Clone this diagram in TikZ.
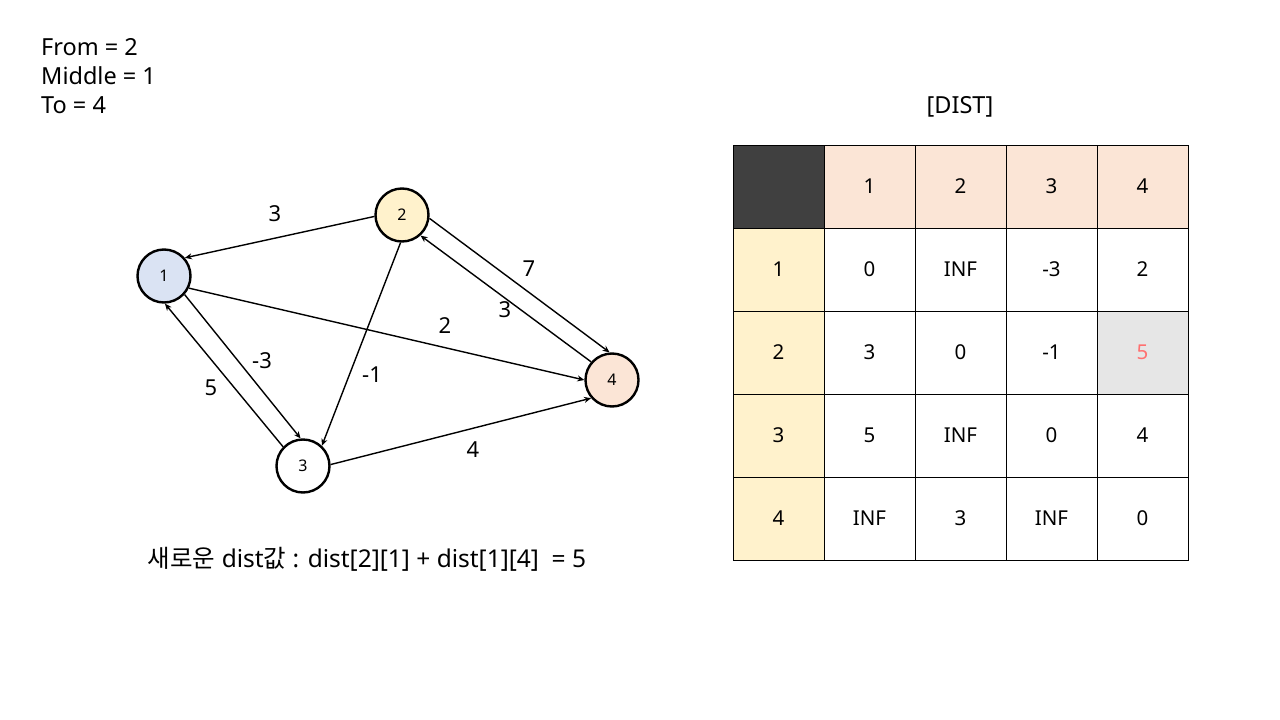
\documentclass[tikz,border=0pt]{standalone}
\usepackage{fontspec}
\setmainfont{Noto Sans}
\newfontfamily\kr{Noto Sans CJK KR}
\usetikzlibrary{arrows.meta}
\definecolor{nblue}{HTML}{DAE3F3}
\definecolor{nyellow}{HTML}{FFF2CC}
\definecolor{npeach}{HTML}{FBE5D6}
\definecolor{hdark}{HTML}{404040}
\definecolor{hgray}{HTML}{E6E6E6}
\definecolor{hred}{HTML}{FF7070}
\begin{document}
\begin{tikzpicture}[x=1pt,y=-1pt,
  every node/.style={font=\fontsize{20.5}{24}\selectfont},
  big/.style={font=\fontsize{23.5}{28}\selectfont},
  vert/.style={circle,draw,line width=2.4pt,minimum size=53pt,inner sep=0pt,font=\fontsize{16}{18}\selectfont},
  edge/.style={line width=1.4pt,-{Stealth[length=7pt,width=6pt]}},
  cell/.style={rectangle,draw,line width=0.8pt,minimum width=91pt,minimum height=83pt,inner sep=0pt,anchor=center},
  lbl/.style={inner sep=1pt,font=\fontsize{22}{26}\selectfont}]
\useasboundingbox[fill=white] (0,0) rectangle (1280,720);

% top-left text
\node[big,anchor=west,inner sep=0pt] (tfrom) at (41,47) {From = 2};
\node[big,anchor=west,inner sep=0pt] (tmid) at (41,76) {Middle = 1};
\node[big,anchor=west,inner sep=0pt] (tto) at (41,105) {To = 4};

% graph
\node[vert,fill=nblue] (n1) at (164,276) {1};
\node[vert,fill=nyellow] (n2) at (402,215) {2};
\node[vert,fill=white] (n3) at (303,466) {3};
\node[vert,fill=npeach] (n4) at (612,380) {4};

\draw[edge] (n2.183) -- (n1.41);
\draw[edge] (n1.-26) -- (n4.180);
\draw[edge] (n1.-42) -- (n3.95);
\draw[edge] (n3.136) -- (n1.-88);
\draw[edge] (n2.-93) -- (n3.47);
\draw[edge] (n2.-7) -- (n4.95);
\draw[edge] (n4.139) -- (n2.-48);
\draw[edge] (n3.3) -- (n4.221);

\node[lbl] (l21) at (275,214) {3};
\node[lbl] (l14) at (445,326) {2};
\node[lbl] (l13) at (262,361) {-3};
\node[lbl] (l31) at (211,388) {5};
\node[lbl] (l23) at (372,375) {-1};
\node[lbl] (l24) at (529,269) {7};
\node[lbl] (l42) at (505,310) {3};
\node[lbl] (l34) at (473,450) {4};

\node[anchor=center,font=\fontsize{24.5}{28}\selectfont] (formula) at (367,559) {{\kr 새로운} dist{\kr 값} : dist[2][1] + dist[1][4]\ \ = 5};

% table
\node[big] (title) at (960,107) {[DIST]};
\node[cell,fill=hdark] (c00) at (778.5,186.5) {};
\foreach \j/\t in {1/1,2/2,3/3,4/4}
  \node[cell,fill=npeach] (c0\j) at ({778.5+91*\j},186.5) {\t};
\foreach \i/\t in {1/1,2/2,3/3,4/4}
  \node[cell,fill=nyellow] (c\i0) at (778.5,{186.5+83*\i}) {\t};
\foreach \i/\a/\b/\c/\d in {1/0/INF/-3/2, 2/3/0/-1/{}, 3/5/INF/0/4, 4/INF/3/INF/0}{
  \node[cell,fill=white] (c\i1) at (869.5,{186.5+83*\i}) {\a};
  \node[cell,fill=white] (c\i2) at (960.5,{186.5+83*\i}) {\b};
  \node[cell,fill=white] (c\i3) at (1051.5,{186.5+83*\i}) {\c};
  \node[cell,fill=white] (c\i4) at (1142.5,{186.5+83*\i}) {\d};
}
\node[cell,fill=hgray,text=hred] (c24h) at (1142.5,352.5) {5};
\end{tikzpicture}
\end{document}
